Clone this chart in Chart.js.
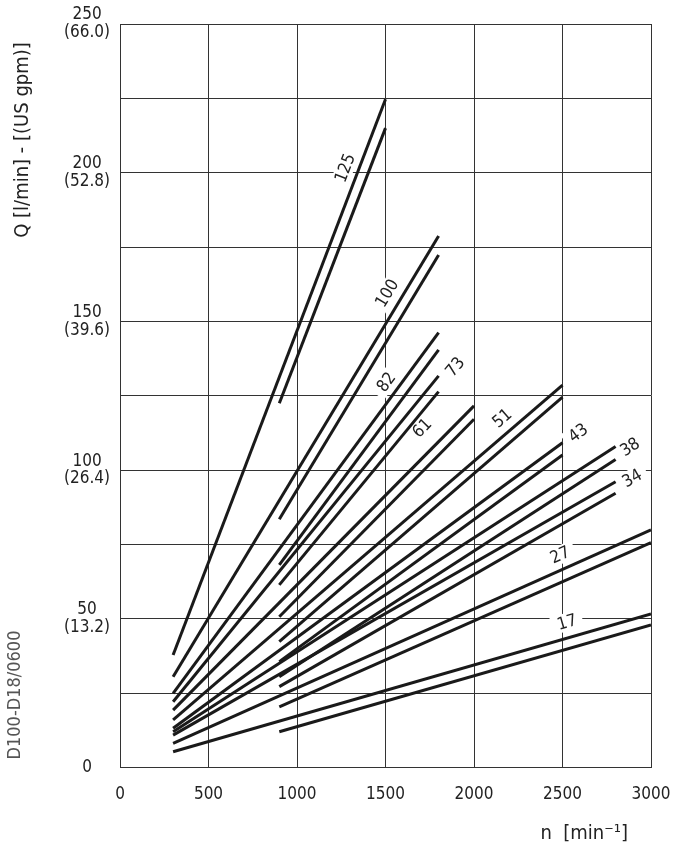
<!DOCTYPE html>
<html>
<head>
<meta charset="utf-8">
<script src="https://cdn.jsdelivr.net/npm/chart.js@4.4.0/dist/chart.umd.min.js"></script>
<style>
  html, body { margin: 0; padding: 0; background: #fff; }
  #wrap { width: 676px; height: 849px; }
</style>
</head>
<body>
<div id="wrap"><canvas id="flowChart" width="676" height="849"></canvas></div>
<script>
// Displacement sizes, each drawn as a pair of lines
const sizes = ['125', '100', '82', '73', '61', '51', '43', '38', '34', '27', '17'];
const upperStartRpm = 300;
const lowerStartRpm = 900;
const endRpm = [1500, 1800, 1800, 1800, 2000, 2500, 2500, 2800, 2800, 3000, 3000];

// Q [l/min]
const upperStartQ = [37.8, 30.5, 24.9, 22.1, 19.3, 16.0, 13.2, 12.0, 10.9, 8.1, 5.3];
const upperEndQ = [224.7, 178.7, 146.2, 131.7, 121.6, 128.6, 109.2, 107.9, 96.1, 79.9, 51.6];
const lowerStartQ = [122.5, 83.5, 68.1, 61.4, 50.7, 42.3, 35.6, 30.5, 27.2, 20.4, 12.0];
const lowerEndQ = [215.0, 172.3, 140.4, 126.4, 117.1, 124.5, 105.1, 103.6, 92.2, 75.6, 47.9];

// where each size label sits (rpm, l/min)
const labelRpm = [1271, 1508, 1503, 1893, 1706, 2158, 2588, 2881, 2893, 2486, 2525];
const labelQ = [201.6, 159.5, 129.6, 134.7, 114.2, 117.5, 112.5, 107.8, 97.3, 71.5, 48.9];

// y tick labels: l/min with US gpm underneath
const qTickValues = [0, 50, 100, 150, 200, 250];
const gpmTickLabels = ['', '(13.2)', '(26.4)', '(39.6)', '(52.8)', '(66.0)'];

const FONT = '"DejaVu Sans Condensed", "DejaVu Sans", sans-serif';

// Build the datasets from the arrays above
const datasets = [];
sizes.forEach((s, i) => {
  datasets.push({
    label: s,
    data: [{ x: upperStartRpm, y: upperStartQ[i] }, { x: endRpm[i], y: upperEndQ[i] }]
  });
  datasets.push({
    label: s + ' (900)',
    data: [{ x: lowerStartRpm, y: lowerStartQ[i] }, { x: endRpm[i], y: lowerEndQ[i] }]
  });
});

// Size labels (with white backing that breaks the grid) and the free texts
const chartTexts = {
  id: 'chartTexts',
  beforeDatasetsDraw(chart) {
    const { ctx, scales: { x, y } } = chart;
    ctx.save();
    ctx.font = '17px ' + FONT;
    ctx.textAlign = 'center';
    ctx.textBaseline = 'middle';
    sizes.forEach((s, i) => {
      const px = x.getPixelForValue(labelRpm[i]);
      const py = y.getPixelForValue(labelQ[i]);
      const dx = x.getPixelForValue(endRpm[i]) - x.getPixelForValue(upperStartRpm);
      const dy = y.getPixelForValue(upperEndQ[i]) - y.getPixelForValue(upperStartQ[i]);
      const ang = Math.atan2(dy, dx);
      const w = ctx.measureText(s).width;
      ctx.save();
      ctx.translate(px, py);
      ctx.rotate(ang);
      ctx.fillStyle = '#fff';
      ctx.fillRect(-w / 2 - 6, -9, w + 12, 18);
      ctx.fillStyle = '#222';
      ctx.fillText(s, 0, 1);
      ctx.restore();
    });
    ctx.restore();
  },
  afterDraw(chart) {
    const { ctx } = chart;
    ctx.save();
    ctx.fillStyle = '#222';
    ctx.textBaseline = 'middle';

    // y axis title
    ctx.save();
    ctx.translate(23, 140);
    ctx.rotate(-Math.PI / 2);
    ctx.textAlign = 'center';
    ctx.font = '20px ' + FONT;
    ctx.fillText('Q [l/min] - [(US gpm)]', 0, 0);
    ctx.restore();

    // drawing number
    ctx.save();
    ctx.translate(15, 695);
    ctx.rotate(-Math.PI / 2);
    ctx.textAlign = 'center';
    ctx.fillStyle = '#555';
    ctx.font = '18px ' + FONT;
    ctx.fillText('D100-D18/0600', 0, 0);
    ctx.restore();

    // x axis title
    ctx.textAlign = 'right';
    ctx.font = '20px ' + FONT;
    ctx.fillText('n  [min\u207B\u00B9]', 628, 834);
    ctx.restore();
  }
};

new Chart(document.getElementById('flowChart'), {
  type: 'scatter',
  data: { datasets: datasets },
  options: {
    responsive: false,
    animation: false,
    showLine: true,
    layout: { padding: { left: 0, right: 25, top: 24, bottom: 0 } },
    elements: {
      point: { radius: 0, hoverRadius: 0 },
      line: { borderColor: '#1a1a1a', borderWidth: 3, borderCapStyle: 'butt', tension: 0 }
    },
    plugins: {
      legend: { display: false },
      tooltip: { enabled: false }
    },
    scales: {
      x: {
        type: 'linear',
        min: 0,
        max: 3000,
        afterFit: (s) => { s.height = 81.5; s.paddingLeft = 0; s.paddingRight = 0; },
        ticks: {
          stepSize: 500,
          padding: 17,
          color: '#222',
          font: { family: FONT, size: 17 },
          callback: (value) => String(value)
        },
        grid: { color: '#333', lineWidth: 1, drawTicks: false },
        border: { display: true, color: '#333', width: 1 }
      },
      y: {
        type: 'linear',
        min: 0,
        max: 250,
        afterFit: (s) => { s.width = 120; s.paddingTop = 0; s.paddingBottom = 0; },
        ticks: {
          stepSize: 25,
          padding: 10,
          crossAlign: 'center',
          color: '#222',
          font: { family: FONT, size: 17, lineHeight: 1.05 },
          callback: (value) => {
            const i = qTickValues.indexOf(value);
            if (i < 0) return '';
            return i === 0 ? '0' : [String(value), gpmTickLabels[i]];
          }
        },
        grid: { color: '#333', lineWidth: 1, drawTicks: false },
        border: { display: true, color: '#333', width: 1 }
      }
    }
  },
  plugins: [chartTexts]
});
</script>
</body>
</html>
